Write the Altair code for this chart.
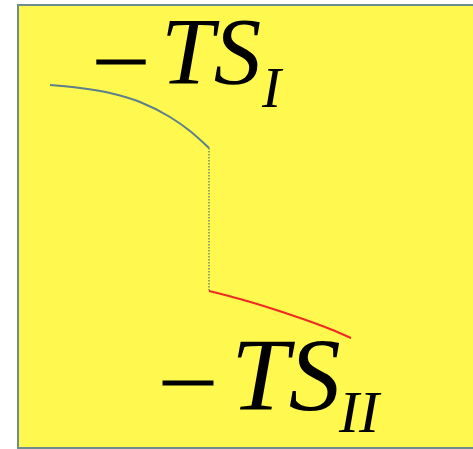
import altair as alt
import pandas as pd

W, H = 473, 449

# panel frame (pixel-like coordinate system, y grows downward)
frame_x = [18]
frame_x2 = [480]
frame_y = [5]
frame_y2 = [448]

# upper branch (TS_I)
upper_x = [50, 80, 110, 140, 170, 190, 209]
upper_y = [85, 88, 93, 102, 117, 131, 148]

# jump between branches
jump_x = [209, 209]
jump_y = [148, 291]

# lower branch (TS_II)
lower_x = [209, 240, 270, 300, 330, 351]
lower_y = [291, 299, 308, 318, 329, 338]

# labels
minus_x = [121, 188]
minus_y = [62, 383]
minus_size = [95, 98]
main_x = [161, 231]
main_y = [84, 410]
main_text = ["TS", "TS"]
main_size = [95, 104]
sub_x = [262, 339]
sub_y = [107, 432]
sub_text = ["I", "II"]
sub_size = [57, 60]

SERIF = "Liberation Serif"

xs = alt.Scale(domain=[0, W], nice=False, zero=False)
ys = alt.Scale(domain=[0, H], nice=False, zero=False, reverse=True)
X = lambda f: alt.X(f, type="quantitative", scale=xs, axis=None)
Y = lambda f: alt.Y(f, type="quantitative", scale=ys, axis=None)

frame = alt.Chart(pd.DataFrame({"x": frame_x, "x2": frame_x2, "y": frame_y, "y2": frame_y2})).mark_rect(
    fill="#FFF84E", stroke="#6F8C8C", strokeWidth=2
).encode(x=X("x"), x2="x2", y=Y("y"), y2="y2")

upper = alt.Chart(pd.DataFrame({"x": upper_x, "y": upper_y})).mark_line(
    color="#5C7F8A", strokeWidth=2, interpolate="monotone"
).encode(x=X("x"), y=Y("y"), order="x:Q")

jump = alt.Chart(pd.DataFrame({"x": jump_x, "y": jump_y})).mark_line(
    color="#4C6F72", strokeWidth=1.2, strokeDash=[1.5, 1.5]
).encode(x=X("x"), y=Y("y"))

lower = alt.Chart(pd.DataFrame({"x": lower_x, "y": lower_y})).mark_line(
    color="#F02A20", strokeWidth=2, interpolate="monotone"
).encode(x=X("x"), y=Y("y"), order="x:Q")

minus = alt.Chart(pd.DataFrame({"x": minus_x, "y": minus_y, "s": minus_size})).mark_rule(
    color="black", strokeWidth=5
).encode(
    x=alt.X("x0:Q", scale=xs, axis=None), x2="x1:Q", y=Y("y")
).transform_calculate(x0="datum.x - datum.s * 0.26", x1="datum.x + datum.s * 0.26")

main = alt.Chart(pd.DataFrame({"x": main_x, "y": main_y, "t": main_text, "s": main_size})).mark_text(
    font=SERIF, fontStyle="italic", align="left", baseline="alphabetic", color="black"
).encode(x=X("x"), y=Y("y"), text="t:N", size=alt.Size("s:Q", scale=None, legend=None))

sub = alt.Chart(pd.DataFrame({"x": sub_x, "y": sub_y, "t": sub_text, "s": sub_size})).mark_text(
    font=SERIF, fontStyle="italic", align="left", baseline="alphabetic", color="black"
).encode(x=X("x"), y=Y("y"), text="t:N", size=alt.Size("s:Q", scale=None, legend=None))

chart = alt.layer(frame, upper, jump, lower, minus, main, sub).properties(
    width=W, height=H, padding=0, autosize=alt.AutoSizeParams(type="none"), background="white"
).configure_view(stroke=None, clip=True)

chart.save("out.html", embed_options={"renderer": "svg", "actions": False})
